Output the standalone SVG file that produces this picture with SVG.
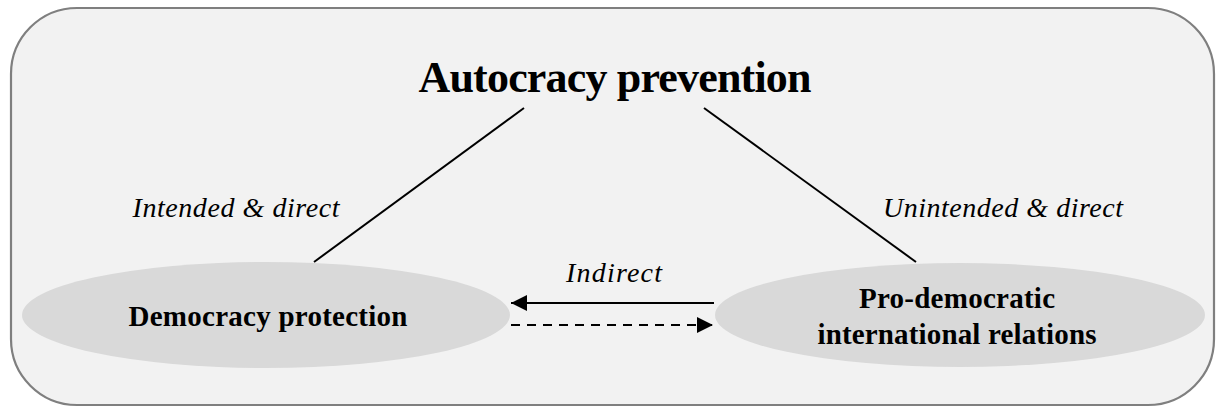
<svg xmlns="http://www.w3.org/2000/svg" width="1216" height="407" viewBox="0 0 1216 407">
  <style>
    .frame { fill: #f2f2f2; stroke: #7f7f7f; stroke-width: 2.2; }
    .node { fill: #d9d9d9; stroke: none; }
    text { font-family: "Liberation Serif", "Times New Roman", Times, serif; fill: #000; text-anchor: middle; }
    .title { font-weight: bold; font-size: 44px; }
    .label { font-weight: bold; font-size: 29px; }
    .edge-label { font-style: italic; font-size: 28px; }
    .link { stroke: #000; stroke-width: 2; fill: none; }
    .dashed { stroke-dasharray: 9 7; }
  </style>
  <defs>
    <marker id="head" viewBox="0 0 16 16" refX="16" refY="8" markerWidth="16" markerHeight="16" markerUnits="userSpaceOnUse" orient="auto">
      <path d="M0,0 L16,8 L0,16 z" fill="#000"/>
    </marker>
  </defs>

  <!-- rounded frame -->
  <rect class="frame" x="11" y="8" width="1203" height="397" rx="66" ry="66"/>

  <g id="autocracy-prevention">
    <text class="title" x="615" y="92" textLength="393">Autocracy prevention</text>
  </g>

  <g id="democracy-protection">
    <ellipse class="node" cx="266" cy="315" rx="244" ry="53"/>
    <text class="label" x="268" y="326" textLength="279">Democracy protection</text>
  </g>

  <g id="pro-democratic-relations">
    <ellipse class="node" cx="960" cy="315" rx="245" ry="52"/>
    <text class="label" x="957" y="308" textLength="196">Pro-democratic</text>
    <text class="label" x="957" y="344" textLength="279">international relations</text>
  </g>

  <g id="connectors">
    <line class="link" x1="524" y1="108" x2="314" y2="262"/>
    <line class="link" x1="704" y1="108" x2="916" y2="262"/>
    <line class="link" x1="714" y1="303" x2="511" y2="303" marker-end="url(#head)"/>
    <line class="link dashed" x1="511" y1="325" x2="713" y2="325" marker-end="url(#head)"/>
    <text class="edge-label" x="236" y="217" textLength="207">Intended &amp; direct</text>
    <text class="edge-label" x="1003" y="217" textLength="240">Unintended &amp; direct</text>
    <text class="edge-label" x="614" y="282" textLength="96">Indirect</text>
  </g>
</svg>
